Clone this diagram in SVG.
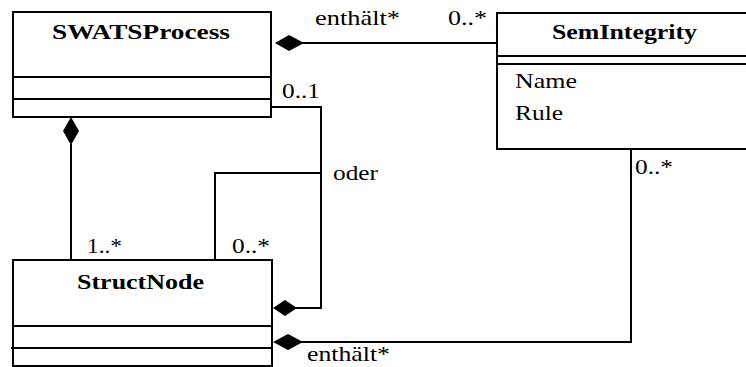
<svg xmlns="http://www.w3.org/2000/svg" width="746" height="367" viewBox="0 0 746 367">
  <style>
    .box { fill: #fff; stroke: #000; stroke-width: 2; }
    .ln { fill: none; stroke: #000; stroke-width: 2; }
    .dia { fill: #000; stroke: none; }
    text { font-family: "Liberation Serif", "Times New Roman", serif; font-size: 21px; fill: #000; }
    .title { font-weight: bold; }
  </style>
  <rect width="746" height="367" fill="#fff"/>

  <!-- connectors -->
  <g id="connectors">
    <!-- SWATSProcess contains SemIntegrity -->
    <path class="ln" d="M302 43 H497"/>
    <polygon class="dia" points="275,43 289,35 304,43 289,51"/>
    <!-- SWATSProcess contains StructNode -->
    <path class="ln" d="M71 144 V260"/>
    <polygon class="dia" points="71,117 79,131 71,145 63,131"/>
    <!-- "oder" branch -->
    <path class="ln" d="M271 107 H321 V308 H296"/>
    <path class="ln" d="M215 260 V173 H321"/>
    <polygon class="dia" points="273,308 285,300 297,308 285,316"/>
    <!-- StructNode contains SemIntegrity -->
    <path class="ln" d="M301 342 H631 V149"/>
    <polygon class="dia" points="273,342 288,334 303,342 288,350"/>
  </g>

  <!-- labels on connectors -->
  <g id="labels">
    <text x="315" y="25" textLength="85" lengthAdjust="spacingAndGlyphs">enthält*</text>
    <text x="448" y="25" textLength="39" lengthAdjust="spacingAndGlyphs">0..*</text>
    <text x="282" y="98" textLength="38" lengthAdjust="spacingAndGlyphs">0..1</text>
    <text x="333" y="180" textLength="45" lengthAdjust="spacingAndGlyphs">oder</text>
    <text x="635" y="174" textLength="38" lengthAdjust="spacingAndGlyphs">0..*</text>
    <text x="87" y="253" textLength="35" lengthAdjust="spacingAndGlyphs">1..*</text>
    <text x="232" y="253" textLength="38" lengthAdjust="spacingAndGlyphs">0..*</text>
    <text x="307" y="361" textLength="83" lengthAdjust="spacingAndGlyphs">enthält*</text>
  </g>

  <g id="SWATSProcess">
    <rect class="box" x="13" y="12" width="258" height="105"/>
    <path class="ln" d="M13 77 H271 M13 99 H271"/>
    <text class="title" x="52" y="39" textLength="178" lengthAdjust="spacingAndGlyphs">SWATSProcess</text>
  </g>

  <g id="SemIntegrity">
    <rect class="box" x="497" y="13" width="260" height="136"/>
    <path class="ln" d="M497 56 H757 M497 64 H757"/>
    <text class="title" x="552" y="39" textLength="145" lengthAdjust="spacingAndGlyphs">SemIntegrity</text>
    <text x="515" y="88" textLength="62" lengthAdjust="spacingAndGlyphs">Name</text>
    <text x="515" y="120" textLength="48" lengthAdjust="spacingAndGlyphs">Rule</text>
  </g>

  <g id="StructNode">
    <rect class="box" x="13" y="260" width="259" height="106"/>
    <path class="ln" d="M13 326 H272 M11 348 H272"/>
    <text class="title" x="77" y="289" textLength="127" lengthAdjust="spacingAndGlyphs">StructNode</text>
  </g>
</svg>
